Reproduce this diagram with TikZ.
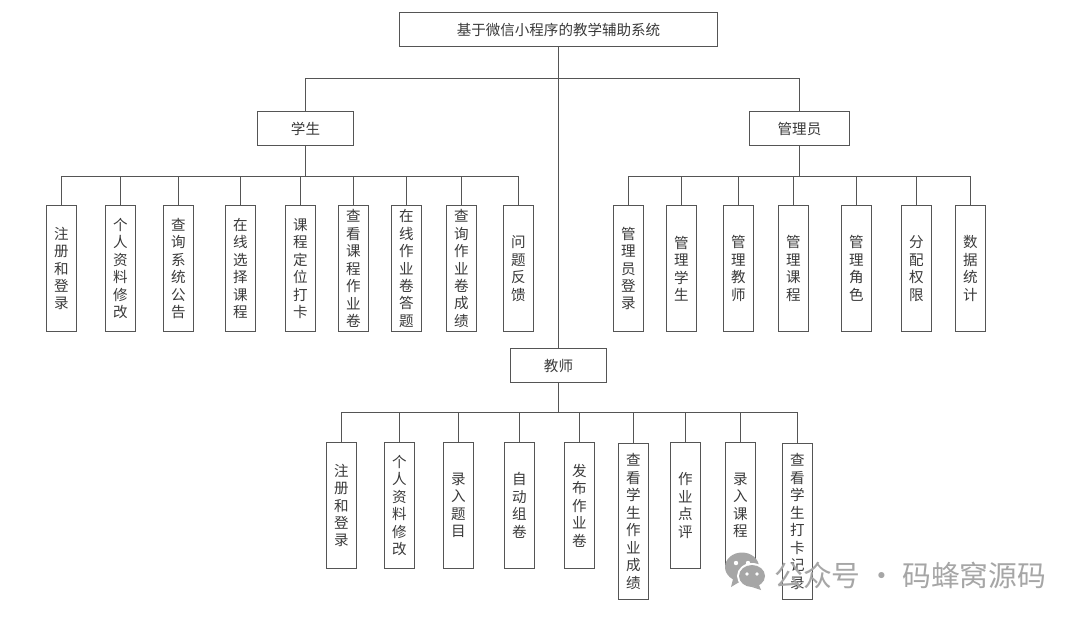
\documentclass[tikz,border=0pt]{standalone}
\usepackage{fontspec}
\setmainfont{Noto Sans CJK SC}
\definecolor{ink}{HTML}{555555}
\definecolor{tx}{HTML}{3A3A3A}
\definecolor{wm}{HTML}{A6A6A6}
\tikzset{
  boxbase/.style={draw=ink,line width=0.85pt,fill=white,text=tx,inner sep=0pt,align=center,font=\fontsize{10.9}{13.1}\selectfont},
  wide/.style={boxbase,minimum height=25.5pt},
  kid/.style={boxbase,minimum width=22.5pt,minimum height=94.5pt},
  kidlong/.style={boxbase,minimum width=22.5pt,minimum height=117pt},
  conn/.style={draw=ink,line width=0.85pt},
  wmtext/.style={text=wm,inner sep=0pt,anchor=west,font=\fontsize{21.6}{24}\selectfont},
}
\begin{document}
\begin{tikzpicture}[x=0.75pt,y=-0.75pt]
\useasboundingbox[fill=white] (0,0) rectangle (1080,619);
\coordinate (topbus) at (558.5,78.5);
\coordinate (sbus) at (305.5,176.5);
\coordinate (abus) at (799.5,176.5);
\coordinate (tbus) at (558.5,412.5);
\node[wide,minimum width=238.5pt] (root) at (558.5,29.5) {基于微信小程序的教学辅助系统};
\node[wide,minimum width=72pt] (student) at (305.5,128.5) {学生};
\node[wide,minimum width=75pt] (admin) at (799.5,128.5) {管理员};
\node[wide,minimum width=72pt] (teacher) at (558.5,365.5) {教师};
% students
\node[kid] (s1) at (61.5,268.5) {注\\册\\和\\登\\录};
\node[kid] (s2) at (120.5,268.5) {个\\人\\资\\料\\修\\改};
\node[kid] (s3) at (178.5,268.5) {查\\询\\系\\统\\公\\告};
\node[kid] (s4) at (240.5,268.5) {在\\线\\选\\择\\课\\程};
\node[kid] (s5) at (300.5,268.5) {课\\程\\定\\位\\打\\卡};
\node[kid] (s6) at (353.5,268.5) {查\\看\\课\\程\\作\\业\\卷};
\node[kid] (s7) at (406.5,268.5) {在\\线\\作\\业\\卷\\答\\题};
\node[kid] (s8) at (461.5,268.5) {查\\询\\作\\业\\卷\\成\\绩};
\node[kid] (s9) at (518.5,268.5) {问\\题\\反\\馈};
% admins
\node[kid] (a1) at (628.5,268.5) {管\\理\\员\\登\\录};
\node[kid] (a2) at (681.5,268.5) {管\\理\\学\\生};
\node[kid] (a3) at (738.5,268.5) {管\\理\\教\\师};
\node[kid] (a4) at (793.5,268.5) {管\\理\\课\\程};
\node[kid] (a5) at (856.5,268.5) {管\\理\\角\\色};
\node[kid] (a6) at (916.5,268.5) {分\\配\\权\\限};
\node[kid] (a7) at (970.5,268.5) {数\\据\\统\\计};
% teachers
\node[kid] (t1) at (341.5,505.5) {注\\册\\和\\登\\录};
\node[kid] (t2) at (399.5,505.5) {个\\人\\资\\料\\修\\改};
\node[kid] (t3) at (458.5,505.5) {录\\入\\题\\目};
\node[kid] (t4) at (519.5,505.5) {自\\动\\组\\卷};
\node[kid] (t5) at (579.5,505.5) {发\\布\\作\\业\\卷};
\node[kidlong] (t6) at (633.5,521.5) {查\\看\\学\\生\\作\\业\\成\\绩};
\node[kid] (t7) at (685.5,505.5) {作\\业\\点\\评};
\node[kid] (t8) at (740.5,505.5) {录\\入\\课\\程};
\node[kidlong] (t9) at (797.5,521.5) {查\\看\\学\\生\\打\\卡\\记\\录};
% connectors
\draw[conn] (root.south) -- (teacher.north);
\draw[conn] (student.north) |- (topbus);
\draw[conn] (admin.north) |- (topbus);
\draw[conn] (student.south) -- (sbus);
\draw[conn] (admin.south) -- (abus);
\draw[conn] (teacher.south) -- (tbus);
\foreach \n in {s1,s2,s3,s4,s5,s6,s7,s8,s9} \draw[conn] (\n.north) |- (sbus);
\foreach \n in {a1,a2,a3,a4,a5,a6,a7} \draw[conn] (\n.north) |- (abus);
\foreach \n in {t1,t2,t3,t4,t5,t6,t7,t8,t9} \draw[conn] (\n.north) |- (tbus);
% watermark
\fill[wm] (742,567) ellipse (17 and 14.5);
\fill[wm] (733,579) -- (731,587) -- (741,581) -- cycle;
\fill[white] (752,576) ellipse (15 and 13);
\fill[wm] (752,576) ellipse (13 and 11);
\fill[wm] (759,585) -- (761,590) -- (752,587) -- cycle;
\fill[white] (736,563) circle (2.2) (748,563) circle (2.2) (747,574) circle (1.8) (757,574) circle (1.8);
\node[wmtext] (mark) at (774,575) {公众号 · 码蜂窝源码};
\end{tikzpicture}
\end{document}
